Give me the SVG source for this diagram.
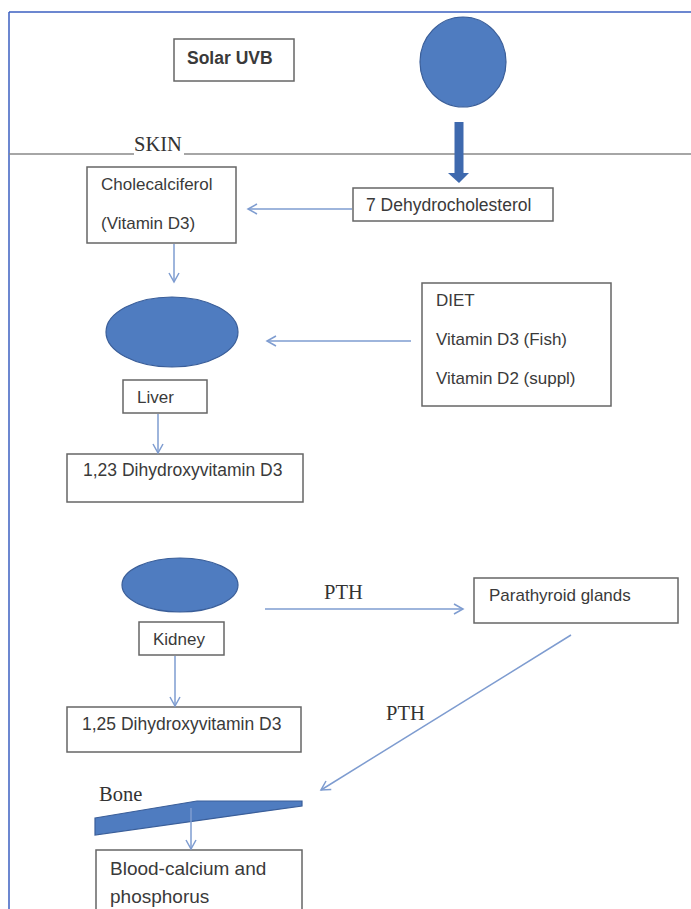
<svg xmlns="http://www.w3.org/2000/svg" width="691" height="909" viewBox="0 0 691 909">
<style>
.box{fill:#fff;stroke:#666;stroke-width:1.5}
.blob{fill:#4F7CC0;stroke:#3A5E99;stroke-width:1.2}
.t{font-family:"Liberation Sans",Arial,sans-serif;font-size:17px;fill:#3a3a3a}
.t2{font-size:17.5px}
.t3{font-size:19px}
.s{font-family:"Liberation Serif","Times New Roman",serif;font-size:20.5px;fill:#333}
.c{stroke:#7E9CD0;stroke-width:1.5;fill:none;marker-end:url(#ah)}
</style>
<defs>
<marker id="ah" markerWidth="12" markerHeight="12" refX="10" refY="6" orient="auto" markerUnits="userSpaceOnUse">
<path d="M1,1 L10,6 L1,11" fill="none" stroke="#7E9CD0" stroke-width="1.5"/>
</marker>
</defs>
<rect width="691" height="909" fill="#fff"/>
<g id="frame">
<line x1="9" y1="12" x2="691" y2="12" stroke="#3B5FC0" stroke-width="1.5"/>
<line x1="9" y1="12" x2="9" y2="909" stroke="#3B5FC0" stroke-width="1.5"/>
</g>
<g id="skin">
<line x1="9" y1="154" x2="134" y2="154" stroke="#888" stroke-width="1.5"/>
<line x1="184" y1="154" x2="691" y2="154" stroke="#888" stroke-width="1.5"/>
<text class="s" x="134" y="151">SKIN</text>
</g>
<g id="solar-uvb">
<rect class="box" x="174" y="39" width="120" height="42"/>
<text class="t t2" x="187" y="64" font-weight="bold">Solar UVB</text>
</g>
<g id="sun">
<ellipse class="blob" cx="463" cy="62" rx="43" ry="45"/>
</g>
<g id="seven-dhc">
<rect class="box" x="353" y="188" width="200" height="33"/>
<text class="t t2" x="366" y="211">7 Dehydrocholesterol</text>
</g>
<g id="cholecalciferol">
<rect class="box" x="87" y="167" width="149" height="76"/>
<text class="t" x="101" y="190">Cholecalciferol</text>
<text class="t" x="101" y="229">(Vitamin D3)</text>
</g>
<g id="liver-organ">
<ellipse class="blob" cx="172" cy="332" rx="66" ry="35"/>
</g>
<g id="liver">
<rect class="box" x="123" y="380" width="84" height="33"/>
<text class="t" x="137" y="403">Liver</text>
</g>
<g id="diet">
<rect class="box" x="422" y="283" width="189" height="123"/>
<text class="t" x="436" y="306">DIET</text>
<text class="t" x="436" y="345">Vitamin D3 (Fish)</text>
<text class="t" x="436" y="384">Vitamin D2 (suppl)</text>
</g>
<g id="d23">
<rect class="box" x="67" y="454" width="236" height="48"/>
<text class="t t2" x="83" y="476">1,23 Dihydroxyvitamin D3</text>
</g>
<g id="kidney-organ">
<ellipse class="blob" cx="180" cy="585" rx="58" ry="27"/>
</g>
<g id="kidney">
<rect class="box" x="139" y="622" width="85" height="33"/>
<text class="t" x="153" y="645">Kidney</text>
</g>
<g id="parathyroid">
<rect class="box" x="474" y="578" width="204" height="45"/>
<text class="t" x="489" y="601">Parathyroid glands</text>
</g>
<g id="d25">
<rect class="box" x="67" y="707" width="234" height="45"/>
<text class="t t2" x="82" y="730">1,25 Dihydroxyvitamin D3</text>
</g>
<g id="bone">
<polygon class="blob" points="95,818 197,801 302,801 302,806 95,835" stroke="none"/>
<text class="s" x="99" y="801">Bone</text>
</g>
<g id="blood">
<rect class="box" x="96" y="850" width="206" height="70"/>
<text class="t t3" x="110" y="875">Blood-calcium and</text>
<text class="t t3" x="110" y="903">phosphorus</text>
</g>
<g id="connectors">
<line x1="459" y1="122" x2="459" y2="174" stroke="#3E69AE" stroke-width="9"/>
<polygon points="448,173 469,173 459,183" fill="#3E69AE"/>
<line class="c" x1="352" y1="209" x2="248" y2="209"/>
<line class="c" x1="174" y1="244" x2="174" y2="282"/>
<line class="c" x1="411" y1="341" x2="267" y2="341"/>
<line class="c" x1="158" y1="414" x2="158" y2="453"/>
<line class="c" x1="265" y1="609" x2="463" y2="609"/>
<text class="s" x="324" y="599">PTH</text>
<line class="c" x1="175" y1="656" x2="175" y2="706"/>
<line class="c" x1="571" y1="635" x2="321" y2="790"/>
<text class="s" x="386" y="720">PTH</text>
<line class="c" x1="191" y1="808" x2="191" y2="849"/>
</g>
</svg>
